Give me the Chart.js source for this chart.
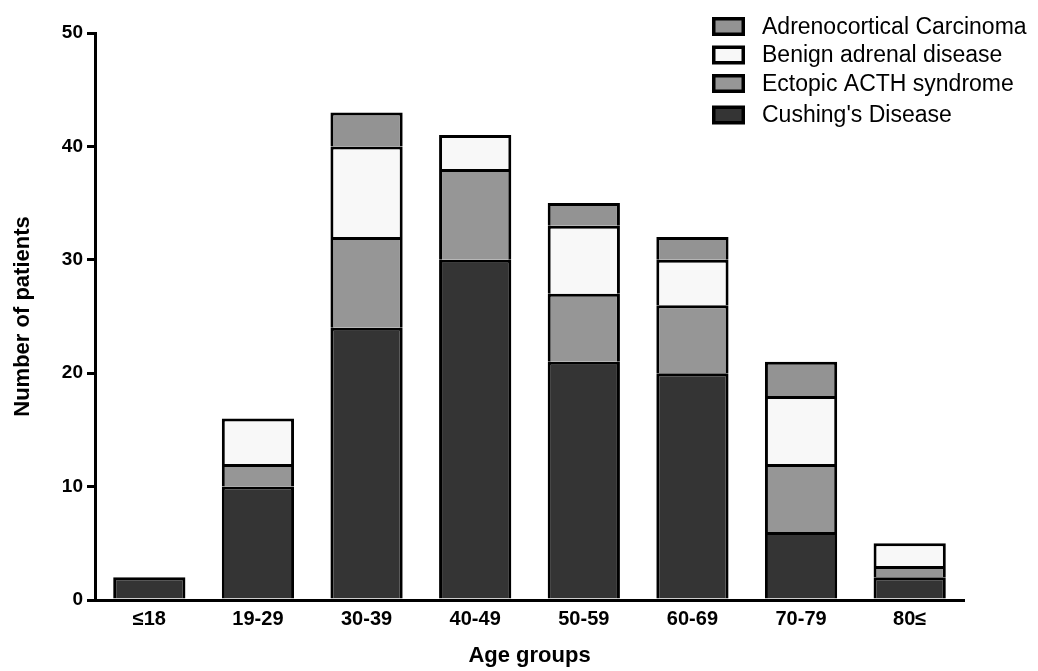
<!DOCTYPE html>
<html>
<head>
<meta charset="utf-8">
<script src="https://cdn.jsdelivr.net/npm/chart.js@4.4.1/dist/chart.umd.min.js"></script>
<style>
  html, body { margin: 0; padding: 0; background: #fff; }
  #wrap { width: 1038px; height: 671px; }
</style>
</head>
<body>
<div id="wrap"><canvas id="myChart" width="1038" height="671"></canvas></div>
<script>
var age_groups = ["≤18", "19-29", "30-39", "40-49", "50-59", "60-69", "70-79", "80≤"];

// stacked from the bottom up
var cushing = [2, 10, 24, 30, 21, 20, 6, 2];
var ectopic = [0, 2, 8, 8, 6, 6, 6, 1];
var benign = [0, 4, 8, 3, 6, 4, 6, 2];
var adreno = [0, 0, 3, 0, 2, 2, 3, 0];

var y_ticks = [0, 10, 20, 30, 40, 50];

var fontName = "'Liberation Sans', Arial, sans-serif";

var dts = [
    {label: "Cushing's Disease", data: cushing, backgroundColor: "#343434"},
    {label: "Ectopic ACTH syndrome", data: ectopic, backgroundColor: "#969696"},
    {label: "Benign adrenal disease", data: benign, backgroundColor: "#f8f8f8"},
    {label: "Adrenocortical Carcinoma", data: adreno, backgroundColor: "#939393"}
];
for (var i = 0; i < dts.length; i++) {
    dts[i].borderColor = "#000";
    dts[i].borderWidth = 3;
    dts[i].barPercentage = 0.665;
    dts[i].categoryPercentage = 1;
}

// legend at the top right, last series on top
var boxLegend = {
    id: "boxLegend",
    afterDraw: function(chart) {
        var ctx = chart.ctx;
        var rows = [26.5, 55, 83.5, 115];
        var sets = chart.data.datasets.slice().reverse();
        ctx.save();
        ctx.font = "23px " + fontName;
        ctx.textBaseline = "middle";
        for (var k = 0; k < sets.length; k++) {
            var y = rows[k];
            ctx.fillStyle = "#000";
            ctx.fillRect(712, y - 9.5, 33, 19);
            ctx.fillStyle = sets[k].backgroundColor;
            ctx.fillRect(715.5, y - 6, 26, 12);
            ctx.fillStyle = "#000";
            ctx.fillText(sets[k].label, 762, y + 1);
        }
        ctx.restore();
    }
};

var canvas = document.getElementById("myChart").getContext("2d");
var chart = new Chart(canvas, {
    type: "bar",
    data: {labels: age_groups, datasets: dts},
    plugins: [boxLegend],
    options: {
        responsive: false,
        animation: false,
        layout: {padding: {left: 0, top: 33, right: 74, bottom: 0}},
        plugins: {legend: {display: false}, tooltip: {enabled: false}},
        scales: {
            x: {
                stacked: true,
                grid: {display: false, drawTicks: false},
                border: {display: true, color: "#000", width: 3},
                ticks: {color: "#000", padding: 7, font: {family: fontName, size: 20, weight: "bold"}},
                title: {display: true, text: "Age groups", color: "#000", padding: {top: 0, bottom: 2},
                        font: {family: fontName, size: 22, weight: "bold"}},
                afterFit: function(scale) { scale.height = 71; }
            },
            y: {
                stacked: true,
                min: 0,
                max: 50,
                afterBuildTicks: function(scale) {
                    scale.ticks = y_ticks.map(function(v) { return {value: v}; });
                },
                grid: {drawOnChartArea: false, drawTicks: true, tickLength: 8, tickColor: "#000", lineWidth: 3},
                border: {display: true, color: "#000", width: 3},
                ticks: {color: "#000", padding: 4, font: {family: fontName, size: 19, weight: "bold"}},
                title: {display: true, text: "Number of patients", color: "#000", padding: {top: 10, bottom: 0},
                        font: {family: fontName, size: 22, weight: "bold"}},
                afterFit: function(scale) { scale.width = 95; }
            }
        }
    }
});
</script>
</body>
</html>
